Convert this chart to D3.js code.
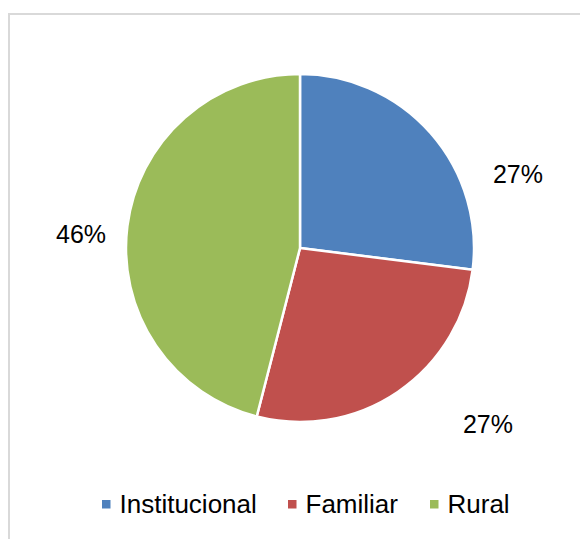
<!DOCTYPE html>
<html>
<head>
<meta charset="utf-8">
<script src="https://cdn.jsdelivr.net/npm/d3@7"></script>
<style>
  body { margin: 0; background: #fff; }
  text { font-family: "Liberation Sans", Arial, sans-serif; fill: #000; }
</style>
</head>
<body>
<div id="vis"></div>
<script>
// Chart data
var categories = ['Institucional', 'Familiar', 'Rural'];
var values = [27, 27, 46];
var colors = ['#4f81bd', '#c0504d', '#9bbb59'];

// SVG size
var width = 580;
var height = 539;

// Pie settings
var cx = 300, cy = 248, radius = 174;

// Data label positions (offset from pie centre), placed like Excel's best fit
var labelOffsets = [[218, -65], [188, 185], [-219, -5]];

var svg = d3.select('#vis')
    .append('svg')
    .attr('width', width)
    .attr('height', height);

// Chart frame
svg.append('rect')
    .attr('x', 9)
    .attr('y', 14)
    .attr('width', 600)
    .attr('height', 600)
    .attr('fill', 'none')
    .attr('stroke', '#d9d9d9')
    .attr('stroke-width', 2);

var pie = d3.pie().sort(null).value(function(d) { return d; });
var arc = d3.arc().innerRadius(0).outerRadius(radius);

var total = d3.sum(values);
var arcs = pie(values);

var g = svg.append('g')
    .attr('transform', 'translate(' + cx + ',' + cy + ')');

g.selectAll('path')
    .data(arcs)
    .enter()
    .append('path')
    .attr('d', arc)
    .attr('fill', function(d, i) { return colors[i]; })
    .attr('stroke', '#fff')
    .attr('stroke-width', 2.5)
    .attr('stroke-linejoin', 'round');

// Percentage labels
g.selectAll('text.pct')
    .data(arcs)
    .enter()
    .append('text')
    .attr('class', 'pct')
    .attr('x', function(d, i) { return labelOffsets[i][0]; })
    .attr('y', function(d, i) { return labelOffsets[i][1]; })
    .attr('text-anchor', 'middle')
    .style('font-size', '25px')
    .text(function(d) { return Math.round(d.value / total * 100) + '%'; });

// Legend
var legendX = [102, 288, 430];
var legend = svg.selectAll('g.legend')
    .data(categories)
    .enter()
    .append('g')
    .attr('class', 'legend')
    .attr('transform', function(d, i) { return 'translate(' + legendX[i] + ',500)'; });

legend.append('rect')
    .attr('width', 8.5)
    .attr('height', 8.5)
    .attr('fill', function(d, i) { return colors[i]; });

legend.append('text')
    .attr('x', 17.5)
    .attr('y', 12.5)
    .style('font-size', '26px')
    .text(function(d) { return d; });
</script>
</body>
</html>
